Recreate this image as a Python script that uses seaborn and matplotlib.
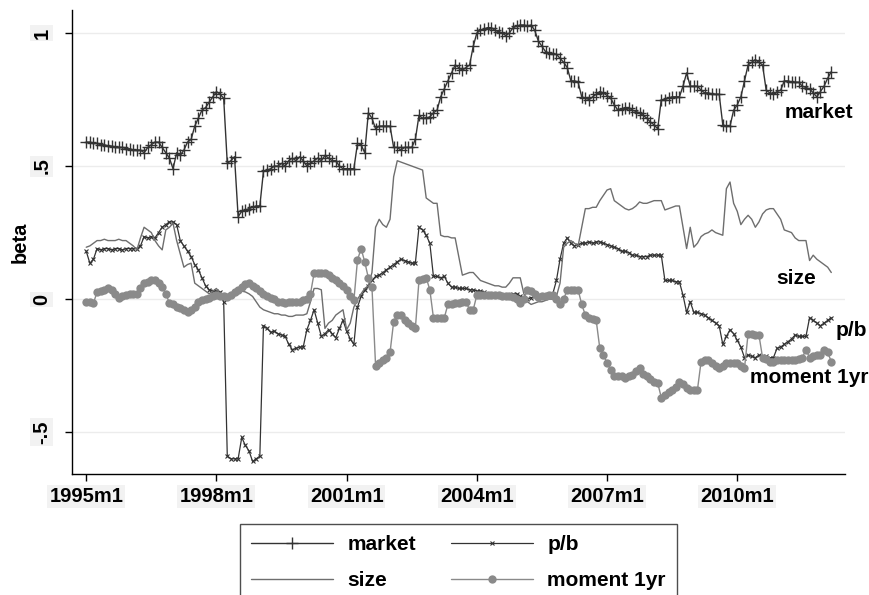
import numpy as np
import pandas as pd
import seaborn as sns
import matplotlib
matplotlib.use("Agg")
import matplotlib.pyplot as plt

# monthly betas, 1995m1 .. 2012m3
market = [0.59, 0.59, 0.585, 0.585, 0.58, 0.58, 0.575, 0.575, 0.57, 0.57, 0.57, 0.565,
          0.565, 0.56, 0.56, 0.56, 0.55, 0.57, 0.58, 0.59, 0.59, 0.57, 0.55, 0.53,
          0.49, 0.55, 0.54, 0.56, 0.59, 0.60, 0.65, 0.68, 0.71, 0.72, 0.74, 0.76,
          0.78, 0.77, 0.755, 0.51, 0.52, 0.535, 0.31, 0.33, 0.335, 0.34, 0.345, 0.35,
          0.35, 0.48, 0.485, 0.49, 0.50, 0.50, 0.51, 0.50, 0.52, 0.53, 0.52, 0.535,
          0.52, 0.50, 0.51, 0.52, 0.53, 0.52, 0.54, 0.53, 0.52, 0.52, 0.50, 0.49,
          0.49, 0.49, 0.49, 0.585, 0.58, 0.55, 0.70, 0.68, 0.64, 0.65, 0.65, 0.65,
          0.65, 0.57, 0.57, 0.56, 0.57, 0.57, 0.57, 0.60, 0.69, 0.68, 0.68, 0.685,
          0.70, 0.71, 0.76, 0.79, 0.82, 0.85, 0.88, 0.87, 0.86, 0.87, 0.88, 0.95,
          1.00, 1.01, 1.015, 1.02, 1.02, 1.01, 1.005, 1.00, 0.99, 1.00, 1.02, 1.025,
          1.03, 1.03, 1.025, 1.03, 1.01, 0.97, 0.95, 0.93, 0.925, 0.92, 0.92, 0.905,
          0.89, 0.87, 0.82, 0.82, 0.815, 0.76, 0.755, 0.75, 0.76, 0.77, 0.78, 0.775,
          0.765, 0.755, 0.73, 0.71, 0.715, 0.72, 0.72, 0.71, 0.705, 0.70, 0.69, 0.68,
          0.665, 0.655, 0.64, 0.75, 0.75, 0.755, 0.76, 0.76, 0.76, 0.80, 0.85, 0.80,
          0.80, 0.80, 0.785, 0.775, 0.775, 0.77, 0.77, 0.77, 0.655, 0.65, 0.65, 0.71,
          0.73, 0.76, 0.82, 0.88, 0.89, 0.90, 0.89, 0.88, 0.785, 0.775, 0.77, 0.78,
          0.785, 0.82, 0.82, 0.815, 0.815, 0.815, 0.80, 0.795, 0.79, 0.775, 0.76, 0.78,
          0.80, 0.83, 0.855]

pb = [0.18, 0.135, 0.15, 0.19, 0.185, 0.19, 0.19, 0.185, 0.19, 0.19, 0.185, 0.19,
      0.19, 0.19, 0.19, 0.20, 0.235, 0.23, 0.235, 0.23, 0.25, 0.27, 0.28, 0.29,
      0.29, 0.28, 0.22, 0.20, 0.18, 0.16, 0.13, 0.11, 0.08, 0.05, 0.035, 0.03,
      0.03, 0.027, -0.01, -0.59, -0.60, -0.60, -0.60, -0.52, -0.55, -0.57, -0.61, -0.60,
      -0.59, -0.10, -0.11, -0.125, -0.12, -0.13, -0.135, -0.14, -0.17, -0.19, -0.185, -0.18,
      -0.18, -0.115, -0.08, -0.04, -0.09, -0.14, -0.13, -0.115, -0.13, -0.145, -0.11, -0.08,
      -0.12, -0.15, -0.17, -0.03, 0.01, 0.035, 0.05, 0.07, 0.085, 0.09, 0.10, 0.11,
      0.12, 0.13, 0.14, 0.15, 0.145, 0.14, 0.135, 0.135, 0.27, 0.26, 0.24, 0.21,
      0.085, 0.085, 0.08, 0.085, 0.06, 0.045, 0.045, 0.04, 0.04, 0.04, 0.035, 0.035,
      0.03, 0.03, 0.025, 0.02, 0.02, 0.02, 0.015, 0.015, 0.01, 0.015, 0.02, 0.02,
      0.01, 0.005, 0.0, 0.005, 0.01, 0.01, 0.015, 0.015, 0.02, 0.02, 0.07, 0.15,
      0.21, 0.23, 0.21, 0.20, 0.205, 0.21, 0.21, 0.215, 0.21, 0.215, 0.215, 0.21,
      0.205, 0.20, 0.195, 0.19, 0.18, 0.18, 0.175, 0.165, 0.165, 0.16, 0.16, 0.16,
      0.165, 0.165, 0.165, 0.165, 0.07, 0.07, 0.07, 0.065, 0.065, 0.015, -0.05, -0.01,
      -0.05, -0.05, -0.055, -0.06, -0.07, -0.08, -0.09, -0.10, -0.17, -0.14, -0.115, -0.13,
      -0.155, -0.18, -0.22, -0.21, -0.215, -0.22, -0.21, -0.22, -0.215, -0.22, -0.22, -0.185,
      -0.18, -0.17, -0.16, -0.15, -0.135, -0.14, -0.14, -0.14, -0.07, -0.08, -0.09, -0.10,
      -0.09, -0.08, -0.07]

size = [0.195, 0.20, 0.21, 0.22, 0.22, 0.225, 0.22, 0.22, 0.22, 0.225, 0.22, 0.22,
        0.21, 0.20, 0.185, 0.23, 0.27, 0.26, 0.25, 0.22, 0.20, 0.185, 0.26, 0.27,
        0.285, 0.22, 0.17, 0.12, 0.13, 0.135, 0.06, 0.05, 0.04, 0.03, 0.02, 0.03,
        0.04, 0.02, 0.01, 0.015, 0.02, 0.02, 0.025, 0.03, 0.027, 0.02, 0.01, -0.01,
        -0.03, -0.04, -0.045, -0.05, -0.055, -0.055, -0.06, -0.06, -0.065, -0.065, -0.06, -0.06,
        -0.06, -0.055, -0.01, 0.04, 0.04, 0.035, -0.11, -0.09, -0.08, -0.06, -0.05, -0.04,
        -0.115, -0.09, -0.03, 0.0, 0.02, 0.04, 0.05, 0.10, 0.27, 0.30, 0.28, 0.27,
        0.30, 0.46, 0.52, 0.515, 0.51, 0.505, 0.50, 0.495, 0.49, 0.485, 0.38, 0.37,
        0.36, 0.36, 0.24, 0.235, 0.235, 0.23, 0.23, 0.16, 0.09, 0.095, 0.10, 0.10,
        0.085, 0.07, 0.065, 0.06, 0.055, 0.05, 0.05, 0.045, 0.045, 0.06, 0.08, 0.08,
        0.08, 0.02, -0.01, -0.02, -0.015, -0.01, -0.01, -0.005, 0.0, 0.0, 0.01, 0.06,
        0.195, 0.21, 0.22, 0.21, 0.20, 0.27, 0.34, 0.34, 0.345, 0.345, 0.37, 0.39,
        0.41, 0.415, 0.37, 0.36, 0.35, 0.34, 0.335, 0.34, 0.35, 0.365, 0.36, 0.36,
        0.365, 0.37, 0.37, 0.37, 0.335, 0.34, 0.345, 0.35, 0.35, 0.27, 0.19, 0.27,
        0.195, 0.21, 0.235, 0.245, 0.25, 0.26, 0.25, 0.245, 0.24, 0.415, 0.44, 0.36,
        0.33, 0.28, 0.30, 0.315, 0.30, 0.27, 0.29, 0.32, 0.335, 0.34, 0.34, 0.32,
        0.30, 0.26, 0.255, 0.25, 0.23, 0.22, 0.22, 0.22, 0.145, 0.165, 0.15, 0.14,
        0.13, 0.12, 0.10]

moment = [-0.01, -0.01, -0.015, 0.027, 0.03, 0.035, 0.04, 0.035, 0.02, 0.004, 0.01, 0.015,
          0.02, 0.02, 0.02, 0.04, 0.06, 0.065, 0.07, 0.07, 0.06, 0.045, 0.02, -0.015,
          -0.02, -0.03, -0.035, -0.04, -0.05, -0.04, -0.03, -0.01, -0.005, 0.0, 0.005, 0.01,
          0.015, 0.012, 0.01, 0.008, 0.015, 0.025, 0.035, 0.045, 0.055, 0.06, 0.05, 0.04,
          0.03, 0.02, 0.01, 0.005, 0.0, -0.01, -0.01, -0.015, -0.01, -0.01, -0.01, -0.01,
          -0.005, 0.0, 0.02, 0.097, 0.10, 0.10, 0.10, 0.09, 0.08, 0.07, 0.06, 0.05,
          0.035, 0.01, -0.005, 0.147, 0.19, 0.14, 0.08, 0.045, -0.25, -0.24, -0.23, -0.22,
          -0.20, -0.085, -0.06, -0.06, -0.08, -0.09, -0.10, -0.11, 0.07, 0.075, 0.08, 0.035,
          -0.07, -0.07, -0.07, -0.07, -0.02, -0.02, -0.015, -0.015, -0.01, -0.01, -0.04, -0.04,
          0.015, 0.015, 0.015, 0.015, 0.015, 0.015, 0.015, 0.012, 0.01, 0.01, 0.008, 0.0,
          -0.015, 0.0, 0.035, 0.03, 0.02, 0.008, 0.01, 0.012, 0.015, 0.015, 0.0, -0.02,
          0.0, 0.035, 0.035, 0.035, 0.035, -0.02, -0.06, -0.07, -0.075, -0.08, -0.185, -0.21,
          -0.24, -0.265, -0.29, -0.29, -0.29, -0.295, -0.29, -0.285, -0.27, -0.26, -0.28, -0.29,
          -0.30, -0.31, -0.315, -0.37, -0.36, -0.35, -0.34, -0.33, -0.31, -0.32, -0.335, -0.34,
          -0.34, -0.34, -0.235, -0.23, -0.23, -0.24, -0.25, -0.26, -0.25, -0.24, -0.24, -0.24,
          -0.24, -0.25, -0.26, -0.13, -0.13, -0.135, -0.135, -0.22, -0.225, -0.235, -0.235, -0.23,
          -0.23, -0.23, -0.23, -0.23, -0.23, -0.225, -0.22, -0.19, -0.22, -0.215, -0.21, -0.21,
          -0.19, -0.20, -0.235]

xtick_pos = [0, 36, 72, 108, 144, 180]
xtick_labels = ["1995m1", "1998m1", "2001m1", "2004m1", "2007m1", "2010m1"]
ytick_pos = [-0.5, 0, 0.5, 1]
ytick_labels = ["-.5", "0", ".5", "1"]

sns.set_theme(style="white")
plt.rcParams['font.family'] = ['Liberation Sans', 'DejaVu Sans']
plt.rcParams['text.color'] = 'black'
plt.rcParams['axes.labelcolor'] = 'black'
plt.rcParams['xtick.color'] = 'black'
plt.rcParams['ytick.color'] = 'black'

df = pd.DataFrame({"t": np.arange(len(market)), "market": market, "pb": pb,
                   "size": size, "moment": moment})

fig = plt.figure(figsize=(8.69, 5.95), dpi=100)
ax = fig.add_axes([0.083, 0.203, 0.889, 0.780])

dark = "#333333"
sns.lineplot(data=df, x="t", y="market", ax=ax, color=dark, lw=1.0,
             marker="+", markersize=8, markeredgewidth=1.0,
             markeredgecolor=dark, label="market")
sns.lineplot(data=df, x="t", y="pb", ax=ax, color=dark, lw=0.9,
             marker="x", markersize=2.5, markeredgewidth=0.8,
             markeredgecolor=dark, label="p/b")
sns.lineplot(data=df, x="t", y="size", ax=ax, color="#6e6e6e", lw=1.0, label="size")
sns.lineplot(data=df, x="t", y="moment", ax=ax, color="#8a8a8a", lw=1.0,
             marker="o", markersize=6, markeredgewidth=0,
             markerfacecolor="#8a8a8a", label="moment 1yr")

ax.set_xlim(-3.9, 209.7)
ax.set_ylim(-0.658, 1.086)
for v in ytick_pos:
    ax.axhline(v, color="#ececec", lw=1.0, zorder=0)

lab_box = dict(facecolor="#f2f2f2", edgecolor="none", pad=1.5)
ax.set_xticks(xtick_pos)
ax.set_xticklabels(xtick_labels, fontsize=14.5, fontweight="bold", bbox=lab_box)
ax.set_yticks(ytick_pos)
ax.set_yticklabels(ytick_labels, fontsize=14.5, fontweight="bold", rotation=90,
                   va="center", bbox=lab_box)
ax.tick_params(axis="both", direction="out", length=5, width=1, color="black",
               labelcolor="black", bottom=True, left=True)
ax.tick_params(axis="y", pad=10)
ax.tick_params(axis="x", pad=4)
ax.set_xlabel("")
ax.set_ylabel("beta", fontsize=14.5, fontweight="bold", labelpad=2, color="black")

for s in ["top", "right"]:
    ax.spines[s].set_visible(False)
for s in ["left", "bottom"]:
    ax.spines[s].set_color("black")
    ax.spines[s].set_linewidth(1.0)

# labels at the end of each line
end_labels = [("market", 193.1, 0.70), ("size", 190.9, 0.079),
              ("p/b", 207.2, -0.117), ("moment 1yr", 183.4, -0.293)]
for txt, xx, yy in end_labels:
    ax.text(xx, yy, txt, fontsize=15, fontweight="bold", color="black",
            ha="left", va="center", clip_on=False)

handles, labels = ax.get_legend_handles_labels()
ax.get_legend().remove()
order = [0, 2, 1, 3]
leg = fig.legend([handles[i] for i in order], [labels[i] for i in order],
                 loc="upper center", bbox_to_anchor=(0.5276, 0.1193), ncol=2,
                 frameon=True, fancybox=False, edgecolor="#222222",
                 handlelength=3.9, handletextpad=0.7, columnspacing=1.7,
                 labelspacing=0.8, borderpad=0.55, borderaxespad=0,
                 prop=dict(weight="bold", size=15))
leg.get_frame().set_linewidth(1.0)
for t in leg.get_texts():
    t.set_color("black")

fig.savefig("out.png", dpi=100)
